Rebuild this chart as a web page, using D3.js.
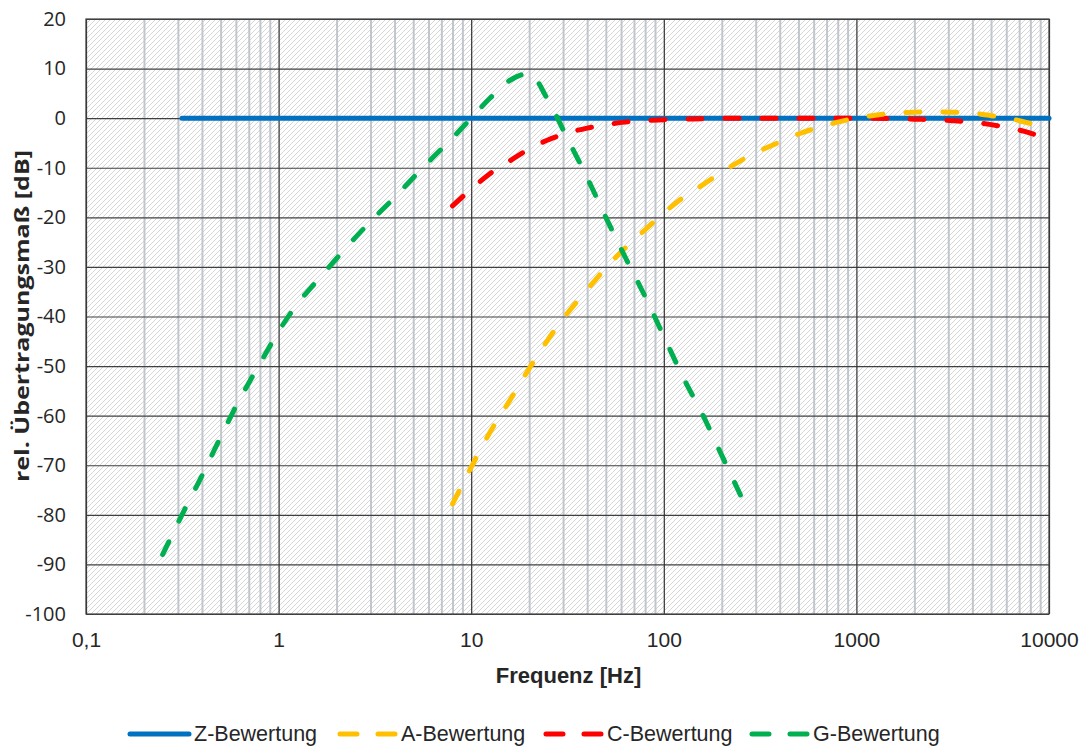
<!DOCTYPE html>
<html>
<head>
<meta charset="utf-8">
<script src="https://cdn.jsdelivr.net/npm/d3@7/dist/d3.min.js"></script>
<style>
  html, body { margin: 0; padding: 0; background: #fff; }
  svg { display: block; }
</style>
</head>
<body>
<svg id="chart" width="1087" height="747"></svg>
<script>
// Third-octave band centre frequencies [Hz]
const freqG = [0.25, 0.315, 0.4, 0.5, 0.63, 0.8, 1, 1.25, 1.6, 2, 2.5, 3.15, 4, 5, 6.3, 8,
  10, 12.5, 16, 20, 25, 31.5, 40, 50, 63, 80, 100, 125, 160, 200, 250];
const valuesG = [-88.0, -80.0, -72.1, -64.3, -56.6, -49.5, -43.0, -37.5, -32.6, -28.3, -24.1, -20.0, -16.0, -12.0, -8.0, -4.0,
  0.0, 4.0, 7.7, 9.0, 3.7, -4.0, -12.0, -20.0, -28.0, -36.0, -44.0, -52.0, -60.0, -68.0, -76.0];

const freqAC = [8, 10, 12.5, 16, 20, 25, 31.5, 40, 50, 63, 80, 100, 125, 160, 200, 250, 315, 400, 500, 630, 800,
  1000, 1250, 1600, 2000, 2500, 3150, 4000, 5000, 6300, 8000, 10000];
const valuesA = [-77.8, -70.4, -63.4, -56.7, -50.5, -44.7, -39.4, -34.6, -30.2, -26.2, -22.5, -19.1, -16.1, -13.4, -10.9, -8.6, -6.6, -4.8, -3.2, -1.9, -0.8,
  0.0, 0.6, 1.0, 1.2, 1.3, 1.2, 1.0, 0.5, -0.1, -1.1, -2.5];
const valuesC = [-17.7, -14.3, -11.2, -8.5, -6.2, -4.4, -3.0, -2.0, -1.3, -0.8, -0.5, -0.3, -0.2, -0.1, 0.0, 0.0, 0.0, 0.0, 0.0, 0.0, 0.0,
  0.0, 0.0, -0.1, -0.2, -0.3, -0.5, -0.8, -1.3, -2.0, -3.0, -4.4];

const freqZ = [0.315, 10000];
const valuesZ = [0, 0];

const seriesNames = ["Z-Bewertung", "A-Bewertung", "C-Bewertung", "G-Bewertung"];
const seriesColors = ["#0070C0", "#FFC000", "#FF0000", "#00B050"];

const xTickValues = [0.1, 1, 10, 100, 1000, 10000];
const xTickLabels = ["0,1", "1", "10", "100", "1000", "10000"];
const yTickValues = [20, 10, 0, -10, -20, -30, -40, -50, -60, -70, -80, -90, -100];

const xTitle = "Frequenz [Hz]";
const yTitle = "rel. Übertragungsmaß [dB]";

// ---- layout ----
const svg = d3.select("#chart");
const pLeft = 86, pRight = 1049, pTop = 19, pBottom = 614;
const textColor = "#262626";

const x = d3.scaleLog().domain([0.1, 10000]).range([pLeft, pRight]);
const y = d3.scaleLinear().domain([-100, 20]).range([pBottom, pTop]);

// hatched plot background
const defs = svg.append("defs");
const pat = defs.append("pattern")
  .attr("id", "hatch")
  .attr("patternUnits", "userSpaceOnUse")
  .attr("width", 5).attr("height", 5);
pat.append("rect").attr("width", 5).attr("height", 5).attr("fill", "#ffffff");
pat.append("path")
  .attr("d", "M-1,1 L1,-1 M0,5 L5,0 M4,6 L6,4")
  .attr("stroke", "#d6d6d6").attr("stroke-width", 1);

svg.append("rect")
  .attr("x", pLeft).attr("y", pTop)
  .attr("width", pRight - pLeft).attr("height", pBottom - pTop)
  .attr("fill", "url(#hatch)");

// minor vertical grid (2..9 in every decade)
const minorTicks = [];
for (let d = -1; d < 4; d++) {
  for (let m = 2; m <= 9; m++) minorTicks.push(m * Math.pow(10, d));
}
svg.append("g")
  .attr("transform", `translate(0,${pBottom})`)
  .call(d3.axisBottom(x).tickValues(minorTicks).tickSize(-(pBottom - pTop)).tickFormat(""))
  .call(g => g.select(".domain").remove())
  .call(g => g.selectAll("line").attr("stroke", "#c1c6cc").attr("stroke-width", 2));

// horizontal major grid
svg.append("g")
  .attr("transform", `translate(${pLeft},0)`)
  .call(d3.axisLeft(y).tickValues(yTickValues).tickSize(-(pRight - pLeft)).tickFormat(""))
  .call(g => g.select(".domain").remove())
  .call(g => g.selectAll("line").attr("stroke", "#404040").attr("stroke-width", 1.2));

// vertical decade grid
svg.append("g")
  .attr("transform", `translate(0,${pBottom})`)
  .call(d3.axisBottom(x).tickValues(xTickValues).tickSize(-(pBottom - pTop)).tickFormat(""))
  .call(g => g.select(".domain").remove())
  .call(g => g.selectAll("line").attr("stroke", "#303030").attr("stroke-width", 1.2));

// plot border
svg.append("rect")
  .attr("x", pLeft).attr("y", pTop)
  .attr("width", pRight - pLeft).attr("height", pBottom - pTop)
  .attr("fill", "none").attr("stroke", "#404040").attr("stroke-width", 1.2);

// tick labels
svg.append("g")
  .attr("transform", `translate(${pLeft},0)`)
  .call(d3.axisLeft(y).tickValues(yTickValues).tickSize(0).tickPadding(20)
    .tickFormat(d => String(d)))
  .call(g => g.select(".domain").remove())
  .call(g => g.selectAll("text")
    .attr("font-family", "'Open Sans', sans-serif")
    .attr("font-size", 20).attr("fill", textColor));

svg.append("g")
  .attr("transform", `translate(0,${pBottom})`)
  .call(d3.axisBottom(x).tickValues(xTickValues).tickSize(0).tickPadding(18)
    .tickFormat((d, i) => xTickLabels[i]))
  .call(g => g.select(".domain").remove())
  .call(g => g.selectAll("text")
    .attr("font-family", "'Liberation Sans', Arial, sans-serif")
    .attr("font-size", 21).attr("fill", textColor));

// axis titles
svg.append("text")
  .attr("x", (pLeft + pRight) / 2 + 1).attr("y", 683)
  .attr("text-anchor", "middle")
  .attr("font-family", "'Liberation Sans', Arial, sans-serif")
  .attr("font-weight", "bold").attr("font-size", 22).attr("fill", textColor)
  .text(xTitle);

svg.append("text")
  .attr("transform", `translate(29,316) rotate(-90)`)
  .attr("text-anchor", "middle")
  .attr("font-family", "'Open Sans', sans-serif")
  .attr("font-weight", "bold").attr("font-size", 19).attr("fill", textColor)
  .attr("textLength", 332).attr("lengthAdjust", "spacingAndGlyphs")
  .text(yTitle);

// curves
const line = d3.line().x(d => x(d[0])).y(d => y(d[1])).curve(d3.curveMonotoneX);
const zip = (f, v) => f.map((fv, i) => [fv, v[i]]);
const curves = [
  { data: zip(freqZ, valuesZ), dash: null },
  { data: zip(freqAC, valuesA), dash: "14,23" },
  { data: zip(freqAC, valuesC), dash: "14,23" },
  { data: zip(freqG, valuesG), dash: "14,23" }
];

const plot = svg.append("g");
// solid Z line first, dashed weightings drawn over it
[0, 2, 1, 3].forEach(i => {
  plot.append("path")
    .attr("d", line(curves[i].data))
    .attr("fill", "none")
    .attr("stroke", seriesColors[i])
    .attr("stroke-width", 5)
    .attr("stroke-linecap", "round")
    .attr("stroke-linejoin", "round")
    .attr("stroke-dasharray", curves[i].dash);
});

// legend
const legendY = 734;
const legendItems = [
  { x1: 130, x2: 189, tx: 194 },
  { x1: 340, x2: 395, tx: 401 },
  { x1: 546, x2: 601, tx: 607 },
  { x1: 752, x2: 807, tx: 813 }
];
const legend = svg.append("g");
legendItems.forEach((it, i) => {
  legend.append("line")
    .attr("x1", it.x1).attr("x2", it.x2)
    .attr("y1", legendY).attr("y2", legendY)
    .attr("stroke", seriesColors[i]).attr("stroke-width", 5)
    .attr("stroke-linecap", "round")
    .attr("stroke-dasharray", i === 0 ? null : "17,21");
  legend.append("text")
    .attr("x", it.tx).attr("y", legendY + 7)
    .attr("font-family", "'Liberation Sans', Arial, sans-serif")
    .attr("font-size", 21.5).attr("fill", textColor)
    .text(seriesNames[i]);
});
</script>
</body>
</html>
